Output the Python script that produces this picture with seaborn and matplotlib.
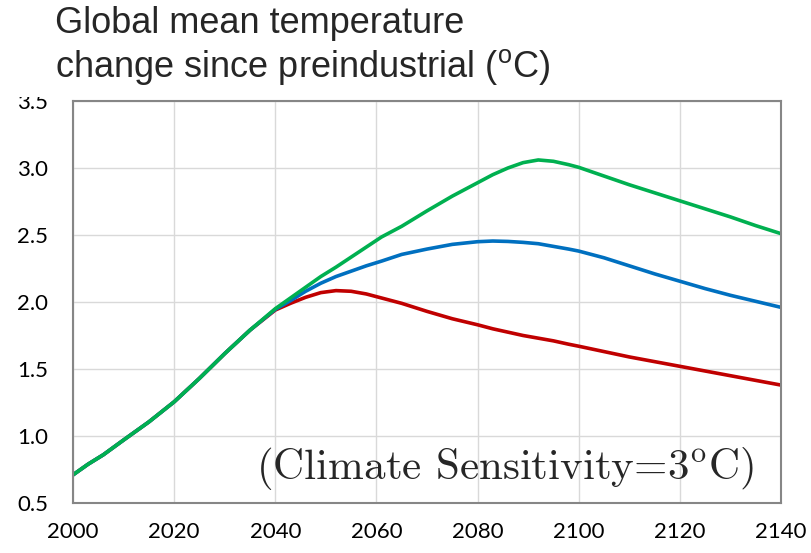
import matplotlib
matplotlib.use("Agg")
import matplotlib.pyplot as plt
import matplotlib.patches as mpatches
import seaborn as sns
import pandas as pd

years = [2000, 2003, 2006, 2010, 2015, 2020, 2025, 2030, 2035,
         2040, 2043, 2046, 2049, 2052, 2055, 2058, 2061, 2065, 2070, 2075,
         2080, 2083, 2086, 2089, 2092, 2095, 2098, 2100, 2105, 2110, 2115,
         2120, 2125, 2130, 2135, 2140]

common = [0.71, 0.79, 0.86, 0.97, 1.105, 1.255, 1.43, 1.615, 1.79]

red_tail = [1.94, 1.99, 2.035, 2.07, 2.085, 2.08, 2.06, 2.03, 1.99, 1.93, 1.875,
            1.83, 1.80, 1.775, 1.75, 1.73, 1.71, 1.685, 1.67, 1.63, 1.59, 1.555,
            1.52, 1.485, 1.45, 1.415, 1.38]
blue_tail = [1.945, 2.01, 2.08, 2.14, 2.19, 2.23, 2.27, 2.305, 2.355, 2.395, 2.43,
             2.45, 2.455, 2.452, 2.445, 2.435, 2.415, 2.395, 2.38, 2.33, 2.27, 2.21,
             2.155, 2.10, 2.05, 2.005, 1.96]
green_tail = [1.95, 2.03, 2.11, 2.19, 2.26, 2.335, 2.41, 2.485, 2.565, 2.68, 2.79,
              2.89, 2.95, 3.00, 3.04, 3.06, 3.05, 3.025, 3.005, 2.94, 2.875, 2.815,
              2.755, 2.695, 2.635, 2.57, 2.51]

series_names = ["red", "blue", "green"]
series_colors = {"red": "#C00000", "blue": "#0070C0", "green": "#00B050"}

x_ticks = [2000, 2020, 2040, 2060, 2080, 2100, 2120, 2140]
y_ticks = [0.5, 1.0, 1.5, 2.0, 2.5, 3.0, 3.5]
y_tick_labels = ["0.5", "1.0", "1.5", "2.0", "2.5", "3.0", "3.5"]

rows = []
for name, tail in zip(series_names, [red_tail, blue_tail, green_tail]):
    vals = common + tail
    for y, v in zip(years, vals):
        rows.append({"year": y, "temp": v, "scenario": name})
df = pd.DataFrame(rows)

sns.set_style("white")
plt.rcParams["mathtext.fontset"] = "custom"
plt.rcParams["mathtext.rm"] = "Liberation Sans"
plt.rcParams["font.family"] = ["Liberation Sans", "DejaVu Sans"]

fig = plt.figure(figsize=(8.11, 5.53), dpi=100)
ax = fig.add_axes([73 / 811, 50 / 553, 708 / 811, 402 / 553])

sns.lineplot(data=df, x="year", y="temp", hue="scenario", palette=series_colors,
             hue_order=series_names, linewidth=2.6, legend=False, ax=ax,
             sort=True)
for ln in ax.get_lines():
    ln.set_solid_joinstyle("round")
    ln.set_solid_capstyle("round")

ax.set_xlim(2000, 2140)
ax.set_ylim(0.5, 3.5)
ax.set_xticks(x_ticks)
ax.set_yticks(y_ticks)
ax.set_yticklabels(y_tick_labels)
ax.set_xlabel("")
ax.set_ylabel("")
ax.grid(True, color="#d9d9d9", linewidth=1.0)
ax.set_axisbelow(True)
for s in ax.spines.values():
    s.set_visible(True)
    s.set_color("#868686")
    s.set_linewidth(1.5)
ax.tick_params(axis="both", direction="out", length=6, width=1.2, color="#868686",
               labelsize=16, labelcolor="black")
ax.tick_params(axis="x", pad=8)
ax.tick_params(axis="y", pad=12)
for lab in ax.get_xticklabels() + ax.get_yticklabels():
    lab.set_family("Lato")

# white title box slightly overlapping the top tick label, as in the original
fig.patches.append(mpatches.Rectangle((0, 1 - 97 / 553), 66 / 811, 97 / 553,
                                      transform=fig.transFigure, facecolor="white",
                                      edgecolor="none", zorder=5))

fig.text(55 / 811, 1 - 6 / 553,
         "Global mean temperature\nchange since preindustrial ($^{\\mathrm{o}}$C)",
         ha="left", va="top", fontsize=26, linespacing=1.2,
         family="Liberation Sans", math_fontfamily="custom", zorder=6)

fig.text(505 / 811, 1 - 469 / 553,
         "(Climate Sensitivity=3$^{\\mathrm{o}}$C)",
         ha="center", va="center", fontsize=31,
         family="cmr10", math_fontfamily="cm")

fig.savefig("out.png", dpi=100)
